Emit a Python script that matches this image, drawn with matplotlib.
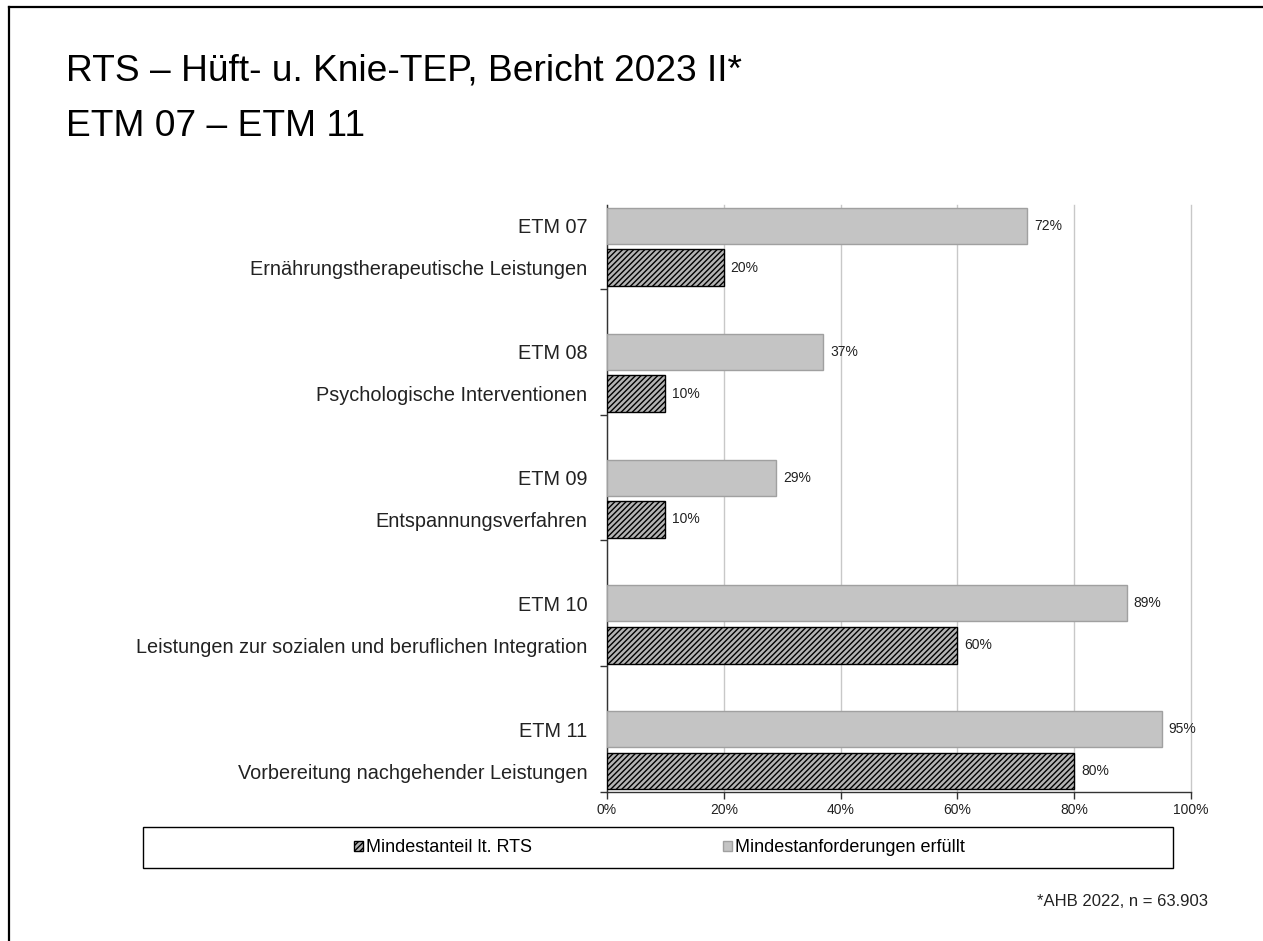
import numpy as np
import matplotlib.pyplot as plt
from matplotlib.lines import Line2D
from matplotlib.patches import Patch, Rectangle
from matplotlib.ticker import FuncFormatter

plt.rcParams["font.family"] = ["Liberation Sans", "DejaVu Sans"]
plt.rcParams["hatch.linewidth"] = 1.0

TITLE_LINES = ["RTS – Hüft- u. Knie-TEP, Bericht 2023 II*", "ETM 07 – ETM 11"]
FOOTNOTE = "*AHB 2022, n = 63.903"

GROUPS = ["ETM 07", "ETM 08", "ETM 09", "ETM 10", "ETM 11"]
DESCRIPTIONS = [
    "Ernährungstherapeutische Leistungen",
    "Psychologische Interventionen",
    "Entspannungsverfahren",
    "Leistungen zur sozialen und beruflichen Integration",
    "Vorbereitung nachgehender Leistungen",
]
# percent of rehab facilities meeting the minimum requirement
ERFUELLT = [72, 37, 29, 89, 95]
# minimum share required by the RTS
MINDESTANTEIL = [20, 10, 10, 60, 80]

SERIES_LABELS = ["Mindestanteil lt. RTS", "Mindestanforderungen erfüllt"]
X_TICKS = [0, 20, 40, 60, 80, 100]

GRAY_FACE = "#c4c4c4"
GRAY_EDGE = "#a0a0a0"
HATCH_FACE = "#b4b4b4"
W, H = 1263, 941


def main():
    fig = plt.figure(figsize=(W / 100, H / 100), dpi=100)
    ax = fig.add_axes([607 / W, 1 - 792 / H, 584 / W, 587 / H])

    # three slots per group (gray bar, hatched bar, spacer); first spacer dropped
    n = len(GROUPS)
    pos_gray = np.arange(n) * 3
    pos_hatch = pos_gray + 1

    ax.barh(pos_gray, ERFUELLT, height=0.86, color=GRAY_FACE,
            edgecolor=GRAY_EDGE, linewidth=1.0, zorder=3)
    ax.barh(pos_hatch, MINDESTANTEIL, height=0.88, color=HATCH_FACE,
            edgecolor="black", hatch="//////", linewidth=1.0, zorder=3)

    for y, v in zip(pos_gray, ERFUELLT):
        ax.annotate(f"{v}%", (v, y), xytext=(5, 0), textcoords="offset points",
                    va="center", ha="left", fontsize=10, color="#222222")
    for y, v in zip(pos_hatch, MINDESTANTEIL):
        ax.annotate(f"{v}%", (v, y), xytext=(5, 0), textcoords="offset points",
                    va="center", ha="left", fontsize=10, color="#222222")

    ax.set_xlim(0, 100)
    ax.set_ylim(3 * n - 1.5, -0.5)

    ax.set_xticks(X_TICKS)
    ax.xaxis.set_major_formatter(FuncFormatter(lambda v, _: f"{v:.0f}%"))
    ax.tick_params(axis="x", length=5, width=1, color="#333333",
                   labelsize=10, pad=3, labelcolor="#222222")
    ax.grid(axis="x", color="#c8c8c8", linewidth=1.0, zorder=0)
    for gl in ax.get_xgridlines():
        gl.set_clip_on(False)

    # separators as major ticks, labels on minor ticks
    ax.set_yticks(pos_hatch + 0.5)
    ax.set_yticklabels([])
    ax.tick_params(axis="y", which="major", length=5, width=1, color="#333333")
    minor_pos = np.sort(np.concatenate([pos_gray, pos_hatch]))
    minor_labels = []
    for g, d in zip(GROUPS, DESCRIPTIONS):
        minor_labels += [g, d]
    ax.set_yticks(minor_pos, minor=True)
    ax.set_yticklabels(minor_labels, minor=True)
    ax.tick_params(axis="y", which="minor", length=0, pad=14,
                   labelsize=14.3, labelcolor="#222222")

    for side in ("top", "right"):
        ax.spines[side].set_visible(False)
    for side in ("left", "bottom"):
        ax.spines[side].set_color("#333333")
        ax.spines[side].set_linewidth(1.0)

    # title and footnote
    fig.text(66 / W, 1 - 71 / H, TITLE_LINES[0], fontsize=26.7, ha="left",
             va="center", color="black")
    fig.text(66 / W, 1 - 127 / H, TITLE_LINES[1], fontsize=26.7, ha="left",
             va="center", color="black")
    fig.text(1208 / W, 1 - 902 / H, FOOTNOTE, fontsize=12,
             ha="right", va="center", color="#222222")

    # legend frame and entries
    fig.patches.append(Rectangle((143 / W, 1 - 868 / H), 1030 / W, 41 / H,
                                 transform=fig.transFigure, facecolor="white",
                                 edgecolor="black", linewidth=1.0))
    handles = [
        Patch(facecolor=HATCH_FACE, edgecolor="black", hatch="//////"),
        Patch(facecolor=GRAY_FACE, edgecolor=GRAY_EDGE),
    ]
    fig.legend(handles, SERIES_LABELS, loc="center left",
               bbox_to_anchor=(354 / W, 1 - 848 / H), ncol=2,
               frameon=False, fontsize=13, handlelength=0.5,
               handleheight=0.5, handletextpad=0.15, columnspacing=10.6,
               borderpad=0, borderaxespad=0)

    # slide border (left and top edges)
    fig.add_artist(Line2D([9 / W, 9 / W], [0, 1 - 7 / H],
                          transform=fig.transFigure, color="black", lw=1.6))
    fig.add_artist(Line2D([9 / W, 1], [1 - 7 / H, 1 - 7 / H],
                          transform=fig.transFigure, color="black", lw=1.6))

    fig.savefig("out.png", dpi=100, facecolor="white")


if __name__ == "__main__":
    main()
